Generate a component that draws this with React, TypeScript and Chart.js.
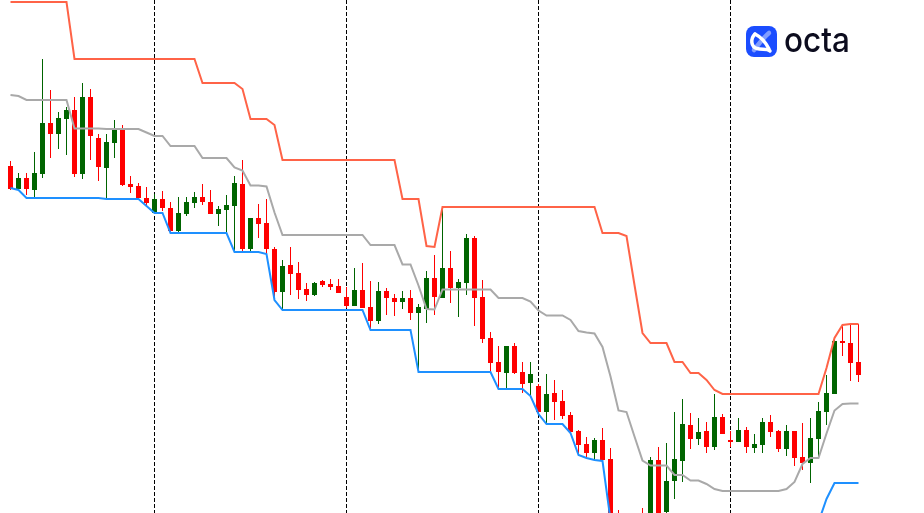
import { useEffect, useRef } from "react";
import { Chart, registerables } from "chart.js";

Chart.register(...registerables);

// Candle prices (arbitrary price units, higher = higher price)
const openPrices = [
  434, 411, 422, 410, 426, 477, 466, 481, 490, 426,
  503, 462, 432, 457, 470, 416, 414, 402, 387, 401,
  392, 369, 386, 397, 403, 398, 386, 390, 394, 416,
  351, 382, 377, 351, 308, 335, 327, 311, 305, 319,
  316, 314, 303, 294, 310, 293, 279, 309, 302, 298,
  302, 287, 291, 322, 302, 332, 312, 317, 362, 303,
  262, 238, 227, 254, 228, 217, 214, 188, 207, 199,
  185, 169, 156, 147, 160, 141, 80, 20, 52, 82,
  72, 140, 88, 119, 139, 175, 161, 169, 153, 183,
  160, 158, 170, 152, 155, 178, 169, 151, 169, 143,
  137, 161, 188, 206, 259, 257, 238,
];

const highPrices = [
  439, 427, 427, 448, 541, 510, 488, 493, 503, 517,
  511, 466, 466, 480, 475, 424, 417, 413, 406, 409,
  398, 403, 403, 408, 416, 410, 394, 405, 424, 440,
  382, 396, 401, 353, 340, 353, 338, 317, 318, 320,
  321, 321, 313, 332, 337, 319, 318, 312, 306, 309,
  310, 296, 329, 345, 393, 349, 321, 366, 364, 320,
  268, 254, 254, 257, 238, 238, 216, 226, 220, 210,
  188, 170, 163, 162, 172, 152, 90, 70, 84, 92,
  143, 153, 157, 188, 201, 187, 182, 178, 206, 186,
  169, 182, 173, 166, 182, 185, 170, 175, 169, 177,
  182, 198, 225, 263, 274, 275, 276,
];

const lowPrices = [
  410, 410, 405, 403, 422, 442, 451, 445, 423, 421,
  440, 419, 401, 442, 414, 407, 400, 394, 387, 389,
  368, 367, 384, 392, 395, 386, 374, 367, 349, 348,
  348, 362, 346, 300, 290, 305, 301, 299, 304, 313,
  310, 307, 292, 294, 292, 271, 276, 285, 284, 291,
  280, 229, 277, 285, 302, 297, 283, 305, 274, 257,
  229, 212, 212, 226, 207, 205, 187, 177, 180, 181,
  167, 146, 142, 140, 139, 80, 12, 12, 16, 30,
  66, 78, 78, 101, 118, 151, 155, 147, 150, 166,
  153, 158, 147, 147, 147, 163, 148, 144, 134, 130,
  117, 143, 175, 206, 244, 219, 218,
];

const closePrices = [
  411, 422, 411, 427, 477, 466, 482, 490, 426, 503,
  464, 433, 458, 470, 415, 413, 402, 397, 401, 392,
  369, 387, 398, 403, 398, 386, 391, 395, 417, 351,
  382, 376, 351, 308, 334, 326, 310, 305, 317, 315,
  313, 307, 294, 310, 292, 279, 309, 302, 298, 302,
  287, 293, 322, 303, 332, 312, 318, 362, 302, 261,
  237, 228, 254, 227, 216, 226, 188, 206, 198, 184,
  168, 155, 147, 160, 140, 84, 25, 55, 80, 60,
  140, 85, 119, 141, 176, 161, 168, 153, 183, 166,
  158, 170, 153, 156, 178, 168, 151, 169, 142, 137,
  162, 189, 207, 259, 257, 237, 225,
];

// Channel (upper / middle / lower band)
const upperBand = [
  598, 598, 598, 598, 598, 598, 598, 598, 541, 541,
  541, 541, 541, 541, 541, 541, 541, 541, 541, 541,
  541, 541, 541, 541, 517, 517, 517, 517, 517, 511,
  481, 481, 481, 475, 440, 440, 440, 440, 440, 440,
  440, 440, 440, 440, 440, 440, 440, 440, 440, 401,
  401, 401, 354, 353, 393, 393, 393, 393, 393, 393,
  393, 393, 393, 393, 393, 393, 393, 393, 393, 393,
  393, 393, 393, 393, 367, 367, 367, 364, 315, 267,
  257, 257, 257, 238, 238, 227, 227, 220, 210, 206,
  206, 206, 206, 206, 206, 206, 206, 206, 206, 206,
  206, 206, 232, 262, 275, 276, 276,
];

const middleBand = [
  505, 504, 500, 500, 500, 500, 500, 500, 471.5, 471.5,
  471.5, 471.5, 471, 471, 471, 471, 471, 467.5, 464, 464,
  454, 454, 454, 454, 442, 442, 442, 442, 432.5, 429.5,
  414.5, 414.5, 413.5, 387.5, 365, 365, 365, 365, 365, 365,
  365, 365, 365, 365, 365, 355, 355, 355, 355, 335.5,
  335.5, 314.5, 291, 290.5, 310.5, 310.5, 310.5, 310.5, 310.5, 310.5,
  310.5, 302, 302, 302, 302, 298.5, 289.5, 284.5, 284.5, 284.5,
  280, 269, 267.5, 266.5, 253, 223.5, 189.5, 188, 163.5, 139.5,
  134.5, 134.5, 134.5, 125, 125, 119.5, 119.5, 116, 111, 109,
  109, 109, 109, 109, 109, 109, 109, 111, 118, 136,
  142, 142, 166.5, 189.5, 196, 196.5, 196.5,
];

const lowerBand = [
  412, 410, 402, 402, 402, 402, 402, 402, 402, 402,
  402, 402, 401, 401, 401, 401, 401, 394, 387, 387,
  367, 367, 367, 367, 367, 367, 367, 367, 348, 348,
  348, 348, 346, 300, 290, 290, 290, 290, 290, 290,
  290, 290, 290, 290, 290, 270, 270, 270, 270, 270,
  270, 228, 228, 228, 228, 228, 228, 228, 228, 228,
  228, 211, 211, 211, 211, 204, 186, 176, 176, 176,
  167, 145, 142, 140, 139, 80, 12, 12, 12, 12,
  12, 12, 12, 12, 12, 12, 12, 12, 12, 12,
  12, 12, 12, 12, 12, 12, 12, 16, 30, 66,
  78, 78, 101, 117, 117, 117, 117,
];

// Bar indices where the dashed period separators sit
const separatorIndices = [18, 42, 66, 90];

const BULL = "#006400";
const BEAR = "#FF0000";

export default function App() {
  const ref = useRef<HTMLCanvasElement | null>(null);

  useEffect(() => {
    if (!ref.current) return;
    const idx = openPrices.map((_, i) => i);
    const colors = idx.map((i) => (closePrices[i] >= openPrices[i] ? BULL : BEAR));
    const line = (data: number[], color: string, width: number) => ({
      type: "line" as const,
      data: idx.map((i) => ({ x: i, y: data[i] })),
      borderColor: color,
      backgroundColor: color,
      borderWidth: width,
      pointRadius: 0,
      tension: 0,
      fill: false,
      order: 0,
    });

    const chart = new Chart(ref.current, {
      type: "bar",
      data: {
        datasets: [
          line(upperBand, "#FF6347", 2),
          line(middleBand, "#A9A9A9", 2),
          line(lowerBand, "#1E90FF", 2),
          {
            type: "bar",
            data: idx.map((i) => ({ x: i, y: [openPrices[i], closePrices[i]] })),
            backgroundColor: colors,
            borderWidth: 0,
            barThickness: 5,
            grouped: false,
            inflateAmount: 0,
            order: 1,
          } as any,
          {
            type: "bar",
            data: idx.map((i) => ({ x: i, y: [lowPrices[i], highPrices[i]] })),
            backgroundColor: colors,
            borderWidth: 0,
            barThickness: 1,
            grouped: false,
            inflateAmount: 0,
            order: 2,
          } as any,
        ],
      },
      options: {
        responsive: false,
        animation: false,
        events: [],
        layout: { padding: 0 },
        plugins: { legend: { display: false }, tooltip: { enabled: false } },
        scales: {
          x: {
            type: "linear",
            min: -1.3125,
            max: 114.1875,
            offset: false,
            afterBuildTicks: (scale: any) => {
              scale.ticks = separatorIndices.map((v) => ({ value: v }));
            },
            ticks: { display: false },
            grid: { display: true, offset: false, color: "#000000", lineWidth: 1, drawTicks: false },
            border: { display: false, dash: [4, 2] },
          },
          y: {
            type: "linear",
            display: false,
            min: 87,
            max: 600,
            beginAtZero: false,
          },
        },
      } as any,
    });
    return () => chart.destroy();
  }, []);

  return (
    <div style={{ position: "fixed", left: 0, top: 0, width: 924, height: 513, background: "#ffffff" }}>
      <canvas ref={ref} width={924} height={513} style={{ display: "block" }} />
      <svg
        width={924}
        height={513}
        style={{ position: "absolute", left: 0, top: 0, pointerEvents: "none" }}
      >
        <g transform="translate(746,26)">
          <rect x={0} y={0} width={31} height={31} rx={8} fill="#1b4dff" />
          <path d="M23 7 C 17 12, 13 18, 8 24" stroke="rgba(255,255,255,0.45)" strokeWidth={4.5} fill="none" strokeLinecap="round" />
          <path d="M9 8 C 4 13, 5 21, 11 22.5 C 16 24, 21 22, 24 25" stroke="#ffffff" strokeWidth={3.5} fill="none" strokeLinecap="round" />
          <path d="M9 8 C 15 11, 20 17, 23 23" stroke="#ffffff" strokeWidth={3.5} fill="none" strokeLinecap="round" />
        </g>
        <text
          x={784}
          y={52}
          fontFamily="Inter, 'Noto Sans', sans-serif"
          fontWeight={500}
          fontSize={35}
          fill="#0c0c1e"
          textLength={66}
          lengthAdjust="spacingAndGlyphs"
        >
          octa
        </text>
      </svg>
    </div>
  );
}
